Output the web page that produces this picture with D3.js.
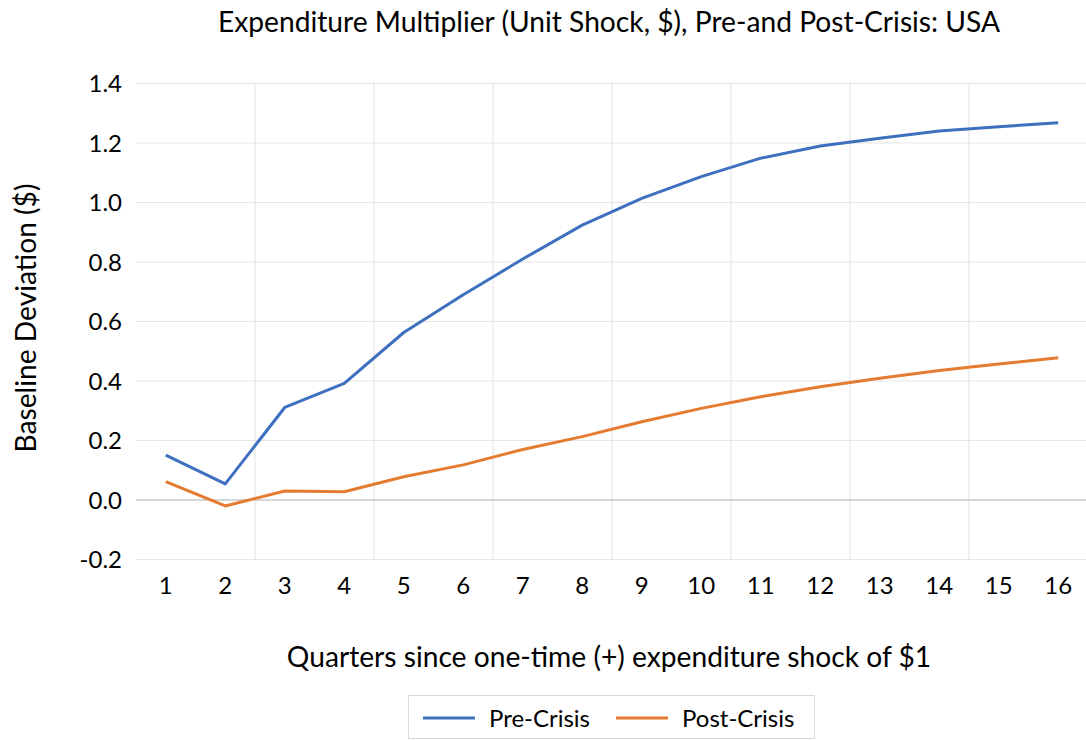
<!DOCTYPE html>
<html>
<head>
<meta charset="utf-8">
<script src="https://cdn.jsdelivr.net/npm/d3@7"></script>
<style>
  body { margin: 0; background: #fff; }
  text { font-family: Lato, "Open Sans", sans-serif; fill: #000; }
</style>
</head>
<body>
<div id="chart"></div>
<script>
// quarters since shock
const quarters = ["1","2","3","4","5","6","7","8","9","10","11","12","13","14","15","16"];
// values
const preCrisis  = [0.151, 0.054, 0.311, 0.392, 0.563, 0.69, 0.81, 0.924, 1.014, 1.087, 1.149, 1.19, 1.216, 1.24, 1.255, 1.268];
const postCrisis = [0.062, -0.02, 0.03, 0.028, 0.078, 0.118, 0.17, 0.213, 0.263, 0.308, 0.347, 0.381, 0.409, 0.435, 0.457, 0.478];
const yTicks = [-0.2, 0, 0.2, 0.4, 0.6, 0.8, 1.0, 1.2, 1.4];
const seriesNames = ["Pre-Crisis", "Post-Crisis"];
const colors = ["#3f6fbf", "#e57b30"];

const W = 1086, H = 740;
const plot = {left: 136, right: 1088, top: 83.5, bottom: 559.5};

const svg = d3.select("#chart").append("svg")
    .attr("width", W).attr("height", H);

const x = d3.scaleBand().domain(quarters).range([plot.left, plot.right]);
const y = d3.scaleLinear().domain([-0.2, 1.4]).range([plot.bottom, plot.top]);

// horizontal gridlines
svg.append("g").selectAll("line")
    .data(yTicks.filter(d => d !== 0))
    .join("line")
    .attr("x1", plot.left).attr("x2", plot.right)
    .attr("y1", d => y(d)).attr("y2", d => y(d))
    .attr("stroke", "#e6e6e6").attr("stroke-width", 1.2);

// vertical gridlines, every 2 quarters
svg.append("g").selectAll("line")
    .data(quarters.filter((d, i) => i % 2 === 1 && i < quarters.length - 1))
    .join("line")
    .attr("x1", d => x(d) + x.bandwidth()).attr("x2", d => x(d) + x.bandwidth())
    .attr("y1", plot.top).attr("y2", plot.bottom)
    .attr("stroke", "#e6e6e6").attr("stroke-width", 1.2);

// zero line
svg.append("line")
    .attr("x1", plot.left).attr("x2", plot.right)
    .attr("y1", y(0)).attr("y2", y(0))
    .attr("stroke", "#c9c9c9").attr("stroke-width", 1.5);

// y tick labels (hyphen minus like the original)
svg.append("g").selectAll("text")
    .data(yTicks)
    .join("text")
    .attr("x", 122).attr("y", d => y(d))
    .attr("dy", "0.36em")
    .attr("text-anchor", "end")
    .style("font-size", "24px")
    .text(d => d.toFixed(1));

// x tick labels
svg.append("g").selectAll("text")
    .data(quarters)
    .join("text")
    .attr("x", d => x(d) + x.bandwidth() / 2).attr("y", 594)
    .attr("text-anchor", "middle")
    .style("font-size", "24px")
    .text(d => d);

// lines
const line = d3.line()
    .x((d, i) => x(quarters[i]) + x.bandwidth() / 2)
    .y(d => y(d));

[preCrisis, postCrisis].forEach((s, k) => {
    svg.append("path")
        .datum(s)
        .attr("fill", "none")
        .attr("stroke", colors[k])
        .attr("stroke-width", 3)
        .attr("stroke-linejoin", "round")
        .attr("d", line);
});

// titles
svg.append("text")
    .attr("x", 609).attr("y", 32)
    .attr("text-anchor", "middle")
    .style("font-size", "28.2px")
    .text("Expenditure Multiplier (Unit Shock, $), Pre-and Post-Crisis: USA");

svg.append("text")
    .attr("x", 609).attr("y", 667)
    .attr("text-anchor", "middle")
    .style("font-size", "28.2px")
    .text("Quarters since one-time (+) expenditure shock of $1");

svg.append("text")
    .attr("transform", "translate(36, 318) rotate(-90)")
    .attr("text-anchor", "middle")
    .style("font-size", "28.2px")
    .text("Baseline Deviation ($)");

// legend
const legend = svg.append("g");
legend.append("rect")
    .attr("x", 408.5).attr("y", 695.5).attr("width", 406).attr("height", 43)
    .attr("fill", "none").attr("stroke", "#d9d9d9");
const legX = [423, 616];
seriesNames.forEach((name, k) => {
    legend.append("line")
        .attr("x1", legX[k]).attr("x2", legX[k] + 52)
        .attr("y1", 718).attr("y2", 718)
        .attr("stroke", colors[k]).attr("stroke-width", 3);
    legend.append("text")
        .attr("x", legX[k] + 66).attr("y", 718)
        .attr("dy", "0.36em")
        .style("font-size", "24px")
        .text(name);
});
</script>
</body>
</html>
